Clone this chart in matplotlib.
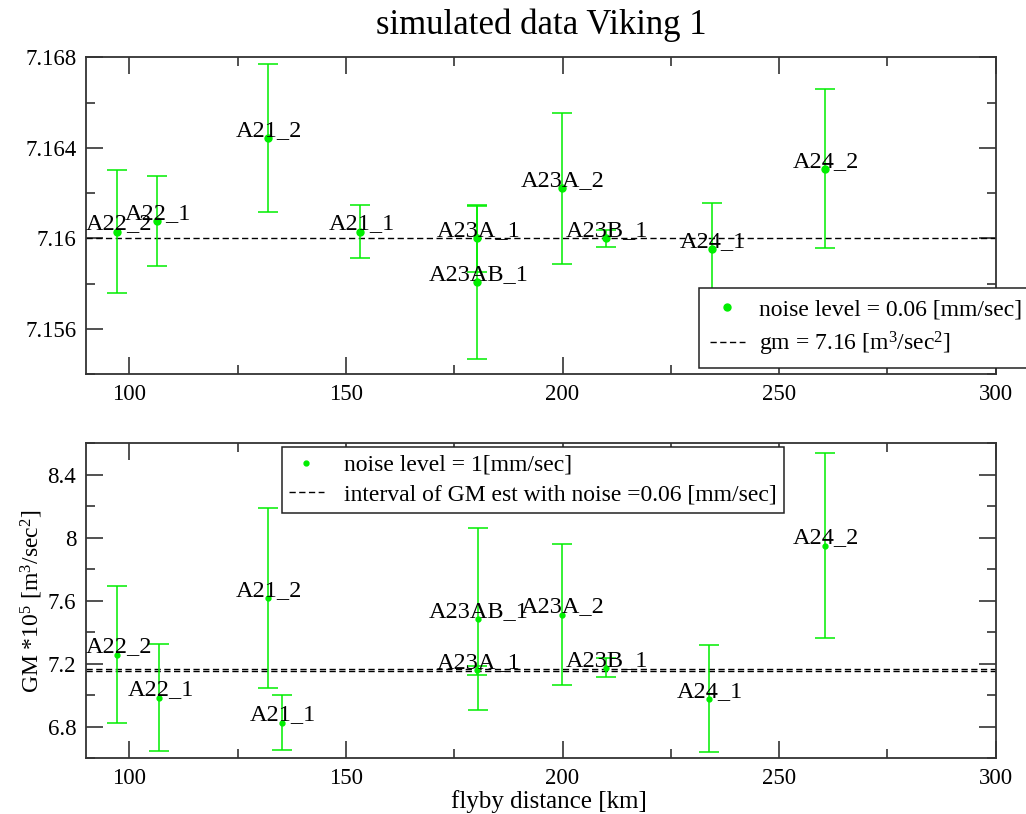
import numpy as np
import matplotlib
matplotlib.use('Agg')
import matplotlib.pyplot as plt
from matplotlib.ticker import MultipleLocator, FormatStrFormatter

plt.rcParams['font.family'] = ['Liberation Serif', 'DejaVu Serif']
plt.rcParams['mathtext.fontset'] = 'custom'
plt.rcParams['mathtext.rm'] = 'Liberation Serif'
plt.rcParams['mathtext.it'] = 'Liberation Serif:italic'

# GM estimates per flyby, noise level 0.06 mm/sec
names_top = ['A22_2', 'A22_1', 'A21_2', 'A21_1', 'A23A_1', 'A23AB_1', 'A23A_2', 'A23B_1', 'A24_1', 'A24_2']
dist_top = [97.2, 106.3, 132.0, 153.3, 180.3, 180.3, 199.8, 210.0, 234.5, 260.6]
gm_top = [7.1603, 7.16075, 7.16444, 7.1603, 7.1600, 7.15806, 7.16222, 7.1600, 7.15951, 7.16308]
err_top = [0.00272, 0.00199, 0.00328, 0.00117, 0.00148, 0.00338, 0.00334, 0.00037, 0.00203, 0.00352]
gm_true = 7.16

# GM estimates per flyby, noise level 1 mm/sec
names_bot = ['A22_2', 'A22_1', 'A21_2', 'A21_1', 'A23AB_1', 'A23A_1', 'A23A_2', 'A23B_1', 'A24_1', 'A24_2']
dist_bot = [97.2, 106.9, 132.0, 135.2, 180.4, 180.3, 199.8, 210.0, 233.7, 260.6]
gm_bot = [7.259, 6.986, 7.616, 6.827, 7.482, 7.158, 7.513, 7.175, 6.978, 7.951]
err_bot = [0.437, 0.341, 0.571, 0.172, 0.578, 0.03, 0.450, 0.060, 0.340, 0.589]
gm_interval = [7.155, 7.165]

green = '#00ee00'
dash = (0, (4.5, 2.5))

fig = plt.figure(figsize=(10.26, 8.14), dpi=100)
ax1 = fig.add_axes([0.0838, 0.5405, 0.8867, 0.389])
ax2 = fig.add_axes([0.0838, 0.0684, 0.8867, 0.387])


def style_axes(ax, ymaj, ymin):
    ax.set_xlim(90, 300)
    ax.xaxis.set_major_locator(MultipleLocator(50))
    ax.xaxis.set_minor_locator(MultipleLocator(25))
    ax.yaxis.set_major_locator(MultipleLocator(ymaj))
    ax.yaxis.set_minor_locator(MultipleLocator(ymin))
    ax.yaxis.set_major_formatter(FormatStrFormatter('%g'))
    ax.tick_params(which='both', direction='in', top=True, right=True,
                   labelsize=16.5, color='#222222', width=1.1)
    ax.tick_params(which='major', length=12.5, pad=7)
    ax.tick_params(which='minor', length=6.5)
    for s in ax.spines.values():
        s.set_color('#333333')
        s.set_linewidth(1.3)


def draw_points(ax, x, y, err, names, ms):
    ax.errorbar(x, y, yerr=err, fmt='none', ecolor=green, elinewidth=1.1,
                capsize=7, capthick=1.1, zorder=3)
    ax.plot(x, y, 'o', color=green, ms=ms, mec=green, zorder=4)
    for xi, yi, nm in zip(x, y, names):
        ax.annotate(nm, (xi, yi), xytext=(1, 1.5), textcoords='offset points',
                    ha='center', va='baseline', fontsize=17.5, zorder=5)


# top panel
draw_points(ax1, dist_top, gm_top, err_top, names_top, 5)
ax1.axhline(gm_true, color='black', lw=1.0, linestyle=dash, zorder=2)
ax1.set_ylim(7.154, 7.168)
style_axes(ax1, 0.004, 0.002)
h1 = [plt.Line2D([], [], ls='none', marker='o', color=green, ms=5),
      plt.Line2D([], [], color='black', lw=1.0, linestyle=dash)]
ax1.legend(h1, ['noise level = 0.06 [mm/sec]', r'gm = 7.16 [m$^3$/sec$^2$]'],
           loc='upper left', bbox_to_anchor=(699 / 1026, 1 - 288 / 814),
           bbox_transform=fig.transFigure, fontsize=17, frameon=True,
           fancybox=False, edgecolor='#222222', framealpha=1, borderaxespad=0,
           handlelength=1.5, handletextpad=0.6, borderpad=0.45, labelspacing=0.4)
ax1.get_legend().get_frame().set_linewidth(1.1)
ax1.set_title('simulated data Viking 1', fontsize=25, pad=17)

# bottom panel
for g in gm_interval:
    ax2.axhline(g, color='black', lw=1.0, linestyle=dash, zorder=2)
draw_points(ax2, dist_bot, gm_bot, err_bot, names_bot, 3.5)
ax2.set_ylim(6.6, 8.6)
style_axes(ax2, 0.4, 0.2)
ax2.set_xlabel('flyby distance [km]', fontsize=18, labelpad=0)
ax2.xaxis.set_label_coords(0.509, -0.1)
ax2.set_ylabel(r'GM *10$^5$ [m$^3$/sec$^2$]', fontsize=17, labelpad=2)
h2 = [plt.Line2D([], [], ls='none', marker='o', color=green, ms=3.5),
      plt.Line2D([], [], color='black', lw=1.0, linestyle=dash)]
ax2.legend(h2, ['noise level = 1[mm/sec]', 'interval of GM est with noise =0.06 [mm/sec]'],
           loc='upper left', bbox_to_anchor=(281.7 / 1026, 1 - 447.3 / 814),
           bbox_transform=fig.transFigure, fontsize=17, frameon=True,
           fancybox=False, edgecolor='#222222', framealpha=1, borderaxespad=0,
           handlelength=1.5, handletextpad=0.85, borderpad=0.3, labelspacing=0.35)
ax2.get_legend().get_frame().set_linewidth(1.1)

fig.savefig('out.png', dpi=100)
